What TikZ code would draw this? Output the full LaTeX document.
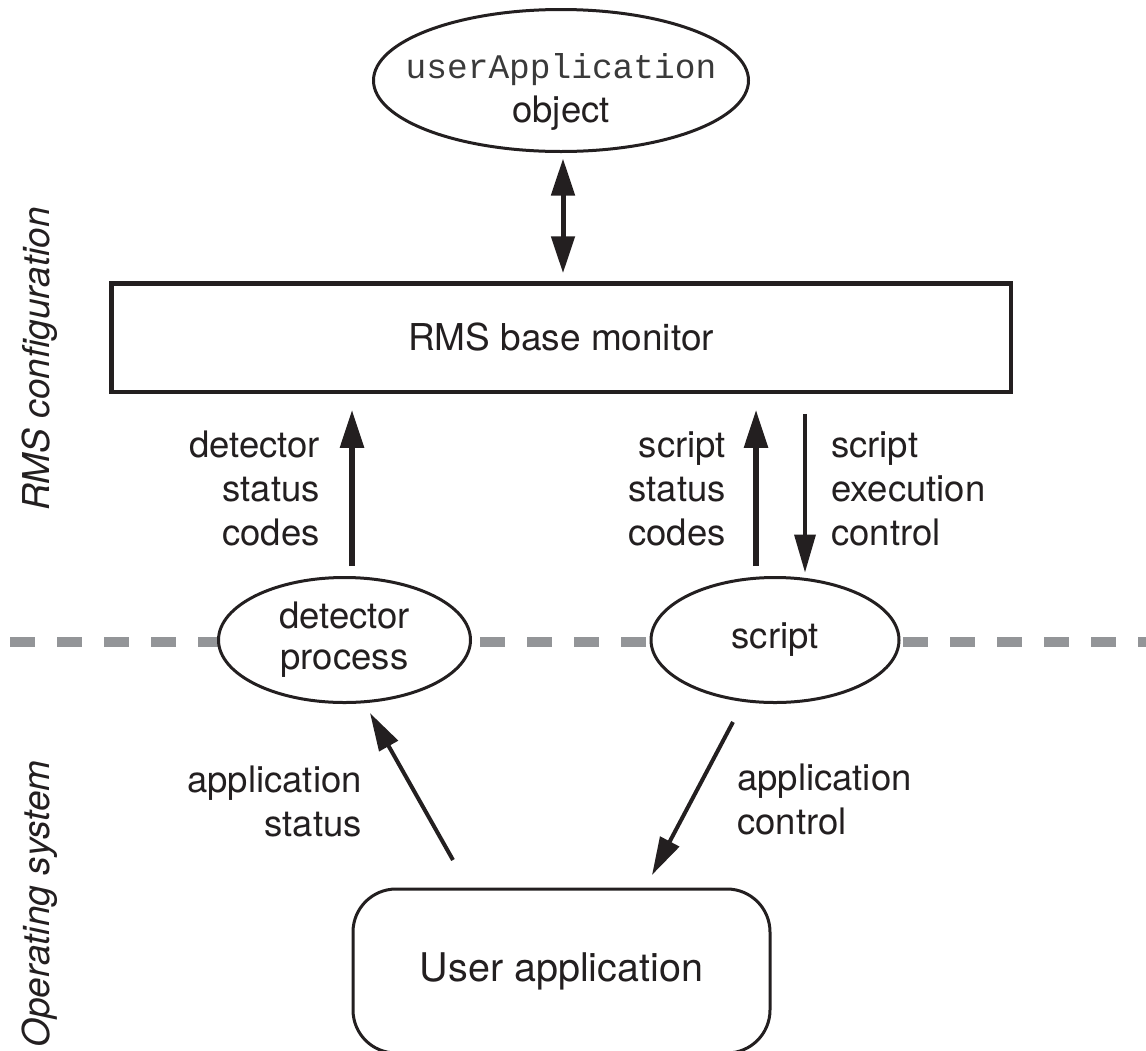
\documentclass[tikz,border=0pt]{standalone}
\usepackage{fontspec}
\setmainfont{TeX Gyre Heros}
\newfontfamily\monof{Liberation Mono}
\usetikzlibrary{arrows.meta,shapes.geometric,calc}
\definecolor{txt}{HTML}{231F20}
\definecolor{dashgray}{HTML}{939598}
\definecolor{monotxt}{HTML}{3A3A3A}
\begin{document}
\begin{tikzpicture}[x=1pt,y=-1pt,
  lbl/.style={font=\fontsize{36.5}{44}\selectfont, inner sep=0pt, text=txt},
  side/.style={font=\fontsize{37}{44}\selectfont\itshape, inner sep=0pt, text=txt},
  ell/.style={ellipse, draw=txt, line width=3pt, fill=white, inner sep=0pt, outer sep=0pt},
  box/.style={rectangle, draw=txt, line width=4.5pt, fill=white, inner sep=0pt, outer sep=0pt},
  rbox/.style={rectangle, rounded corners=43pt, draw=txt, line width=3pt, fill=white, inner sep=0pt, outer sep=0pt},
  sep/.style={draw=dashgray, line width=10pt, dash pattern=on 25pt off 22pt},
  thickarr/.style={draw=txt, line width=5.5pt, -{Triangle[length=38pt,width=23pt]}},
  thinarr/.style={draw=txt, line width=3.5pt, -{Triangle[length=38pt,width=21pt]}},
  diagarr/.style={draw=txt, line width=4pt, -{Triangle[length=38pt,width=21pt]}},
  dblarr/.style={draw=txt, line width=5pt, {Triangle[length=37pt,width=23pt]}-{Triangle[length=37pt,width=23pt]}}
]
\useasboundingbox (0,0) rectangle (1146,1050);
\clip (0,0) rectangle (1146,1050);

% separator
\coordinate (dl) at (10,642);
\coordinate (dr) at (1146,642);
\draw[sep] (dl) -- (dr);

% nodes
\node[ell, minimum width=375pt, minimum height=142pt] (obj) at (561,80.5) {};
\node[lbl, anchor=north, align=center] (objt) at (561,53) {{\monof\fontsize{34.5}{44}\selectfont\color{monotxt}userApplication}\\object};

\node[box, minimum width=899.5pt, minimum height=108.5pt, font=\fontsize{37}{44}\selectfont, text=txt] (rms) at (561,337.5) {RMS base monitor};

\node[ell, minimum width=252pt, minimum height=125pt, font=\fontsize{36.5}{41}\selectfont, text=txt, align=center] (det) at (344.5,640) {detector\\process};
\node[ell, minimum width=248pt, minimum height=125pt, font=\fontsize{36.5}{41}\selectfont, text=txt] (scr) at (775,640) {script};

\node[rbox, minimum width=417pt, minimum height=164pt, font=\fontsize{39.5}{44}\selectfont, text=txt] (app) at (561.5,971) {User application};

% labels
\node[lbl, anchor=north east, align=right] (l1) at (320,431) {detector\\status\\codes};
\node[lbl, anchor=north east, align=right] (l2) at (726,431) {script\\status\\codes};
\node[lbl, anchor=north west, align=left] (l3) at (831,431) {script\\execution\\control};
\node[lbl, anchor=north east, align=right] (l4) at (362,766) {application\\status};
\node[lbl, anchor=north west, align=left] (l5) at (737,764) {application\\control};

\node[side, rotate=90, anchor=base] (rmscfg) at (49,359) {RMS configuration};
\node[side, rotate=90, anchor=base] (ossys) at (49,904) {Operating system};

% connectors
\draw[dblarr] ($(obj.south)+(2,7)$) -- ($(rms.north)+(2,-10)$);

\coordinate (t1) at ($(det.north)+(7.5,-11.5)$);
\draw[thickarr, shorten >=18pt] (t1) -- (t1 |- rms.south);

\coordinate (t2) at ($(scr.north)+(-19,-11.5)$);
\draw[thickarr, shorten >=18pt] (t2) -- (t2 |- rms.south);

\coordinate (d2) at ($(scr.north)+(30,-5)$);
\draw[thinarr, shorten <=22pt] (rms.south -| d2) -- (d2);

\draw[diagarr] ($(app.north)+(-108.5,-29)$) -- ($(det.south)+(25.5,10.5)$);
\draw[diagarr] ($(scr.south)+(-42,19.5)$) -- ($(app.north)+(90.5,-14)$);
\end{tikzpicture}
\end{document}
